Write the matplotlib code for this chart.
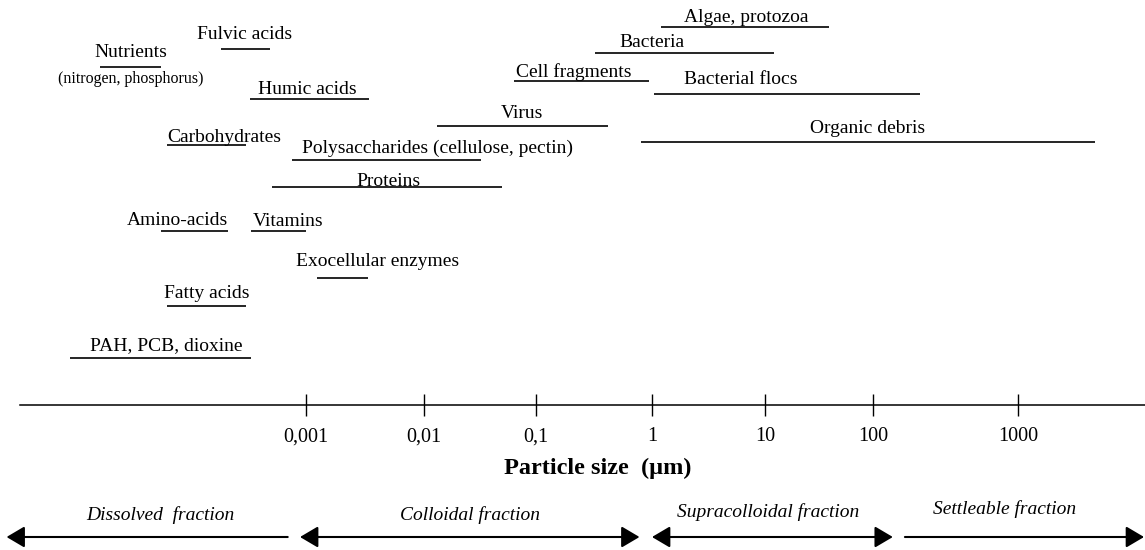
import numpy as np
import matplotlib
matplotlib.use("Agg")
import matplotlib.pyplot as plt
from matplotlib.ticker import NullLocator
from matplotlib.transforms import blended_transform_factory

plt.rcParams['font.family'] = ['Liberation Serif', 'DejaVu Serif']

# size ranges of the compounds / particles, in micrometres
names = ['Algae, protozoa', 'Bacteria', 'Cell fragments', 'Bacterial flocs', 'Virus',
         'Organic debris', 'Fulvic acids', 'Nutrients', 'Humic acids', 'Carbohydrates',
         'Polysaccharides (cellulose, pectin)', 'Proteins', 'Amino-acids', 'Vitamins',
         'Exocellular enzymes', 'Fatty acids', 'PAH, PCB, dioxine']
size_lo = [1.2, 0.32, 0.064, 1.04, 0.013, 0.81, 1.9e-4, 1.8e-5, 3.35e-4, 6.6e-5,
           7.6e-4, 5.2e-4, 5.9e-5, 3.4e-4, 1.24e-3, 6.6e-5, 1.0e-5]
size_hi = [39, 12, 0.94, 210, 0.42, 3400, 5.0e-4, 5.9e-5, 3.4e-3, 3.1e-4,
           0.032, 0.050, 2.2e-4, 1.0e-3, 3.35e-3, 3.1e-4, 3.4e-4]

# fractions shown with arrows under the axis
fractions = ['Dissolved  fraction', 'Colloidal fraction', 'Supracolloidal fraction', 'Settleable fraction']
frac_lo = [2.9e-6, 8.9e-4, 1.0, 166]
frac_hi = [7.0e-4, 0.78, 137, 7400]
frac_heads = ['<|-', '<|-|>', '<|-|>', '-|>']

ticks = [0.001, 0.01, 0.1, 1, 10, 100, 1000]
tick_labels = ['0,001', '0,01', '0,1', '1', '10', '100', '1000']

# ---- layout (pixel rows from the top, label placement) ----
row_y = [27, 52.5, 80.5, 93.5, 126, 141.5, 48.5, 66.5, 98.5, 144.5, 160, 187, 231, 231, 278, 305.5, 357.5]
lab_x = [746, 651.5, 574, 741, 522, 868, 245, 130.5, 307, 167, 437.5, 388, 177, 288, 377.5, 206.5, 166.5]
lab_y = [22, 47, 77, 84, 118, 133, 39, 57, 94, 142, 153, 186, 225, 226, 266, 298, 350]
lab_ha = ['center'] * 9 + ['left'] + ['center'] * 7

# the original drawing has slightly uneven decades -> piecewise log scale
dec = np.array([-3, -2, -1, 0, 1, 2, 3])
dec_px = np.array([306, 424, 536, 652, 765, 873, 1018])


def fwd(x):
    lx = np.log10(np.clip(np.asarray(x, dtype=float), 1e-12, None))
    p = np.interp(lx, dec, dec_px)
    p = np.where(lx < dec[0], dec_px[0] + (lx - dec[0]) * 118, p)
    p = np.where(lx > dec[-1], dec_px[-1] + (lx - dec[-1]) * 145, p)
    return p


def inv(p):
    p = np.asarray(p, dtype=float)
    lx = np.interp(p, dec_px, dec)
    lx = np.where(p < dec_px[0], dec[0] + (p - dec_px[0]) / 118, lx)
    lx = np.where(p > dec_px[-1], dec[-1] + (p - dec_px[-1]) / 145, lx)
    return 10 ** lx


fig = plt.figure(figsize=(11.45, 5.5), dpi=100)
ax = fig.add_axes([0, 0, 1, 1])
ax.set_xscale('function', functions=(fwd, inv))
ax.set_xlim(inv(0), inv(1145))
ax.set_ylim(550, 0)

for s in ['top', 'left', 'right']:
    ax.spines[s].set_visible(False)
ax.spines['bottom'].set_position(('data', 405))
ax.spines['bottom'].set_bounds(inv(20), inv(1145))
ax.spines['bottom'].set_linewidth(1.1)
ax.set_yticks([])
ax.set_xticks(ticks)
ax.set_xticklabels(tick_labels)
ax.xaxis.set_minor_locator(NullLocator())
ax.tick_params(axis='x', direction='inout', length=16, width=1, pad=8, labelsize=14.5)

ax.hlines(row_y, size_lo, size_hi, colors='black', linewidth=1.2)

tr = blended_transform_factory(ax.transAxes, ax.transData)
for i, n in enumerate(names):
    ax.text(lab_x[i] / 1145, lab_y[i], n, transform=tr, ha=lab_ha[i], va='baseline', fontsize=14)
ax.text(131 / 1145, 83, '(nitrogen, phosphorus)', transform=tr, ha='center', va='baseline', fontsize=11.5)

ax.text(598 / 1145, 474, 'Particle size  (\u00b5m)', transform=tr, ha='center', va='baseline',
        fontsize=17.5, fontweight='bold')

frac_x = [160, 470, 768.5, 1004.5]
frac_ty = [520, 520, 517, 514]
for i, f in enumerate(fractions):
    ax.annotate('', xy=(frac_hi[i], 537), xytext=(frac_lo[i], 537),
                arrowprops=dict(arrowstyle=frac_heads[i] + ',head_length=1.1,head_width=0.65',
                                color='black', lw=1.5, shrinkA=0, shrinkB=0))
    ax.text(frac_x[i] / 1145, frac_ty[i], f, transform=tr, ha='center', va='baseline',
            fontsize=14, style='italic')

plt.savefig('out.png', dpi=100)
